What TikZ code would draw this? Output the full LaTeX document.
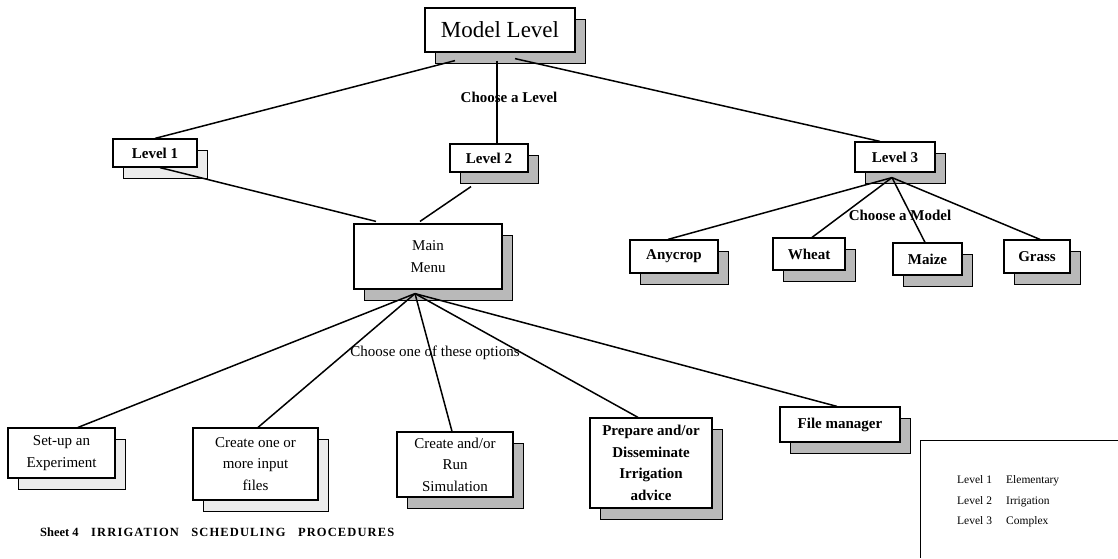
\documentclass[tikz,border=0pt]{standalone}
\usepackage{fontspec}
\setmainfont{Liberation Serif}
\usetikzlibrary{shadows,calc}
\begin{document}
\begin{tikzpicture}[x=1pt,y=-1pt,
  box/.style={draw=black, line width=1.2pt, fill=white, align=center,
    inner sep=2pt, font=\fontsize{15}{21.5}\selectfont,
    copy shadow={shadow xshift=10pt, shadow yshift=-11pt, fill=#1,
      draw=black, line width=0.8pt}},
  box/.default=gray!55,
  boldbox/.style={box=#1, font=\bfseries\fontsize{15}{21.5}\selectfont},
  boldbox/.default=gray!55,
  link/.style={draw=black, line width=1.5pt},
  caption/.style={font=\fontsize{15}{18}\selectfont, inner sep=0pt},
  legendtext/.style={font=\fontsize{11.5}{14}\selectfont, anchor=base west, inner sep=0pt}]

\useasboundingbox (0,0) rectangle (1118,558);

% top level
\node[box, minimum width=150pt, minimum height=44pt,
      font=\fontsize{23}{26}\selectfont] (ml) at (500,30) {Model Level};

% levels
\node[boldbox=gray!15, minimum width=84pt, minimum height=28pt] (l1) at (155,153) {Level 1};
\node[boldbox, minimum width=78pt, minimum height=28pt] (l2) at (489,158) {Level 2};
\node[boldbox, minimum width=80pt, minimum height=30pt] (l3) at (895,157) {Level 3};

% main menu
\node[box, minimum width=148pt, minimum height=65pt] (mm) at (428,256.5) {Main\\Menu};

% crop models
\node[boldbox, minimum width=88pt, minimum height=33pt] (anycrop) at (674,256.5) {Anycrop};
\node[boldbox, minimum width=72pt, minimum height=32pt] (wheat) at (809,254) {Wheat};
\node[boldbox, minimum width=69pt, minimum height=32pt] (maize) at (927.5,259) {Maize};
\node[boldbox, minimum width=66pt, minimum height=33pt] (grass) at (1037,256.5) {Grass};

% menu options
\node[box=gray!15, minimum width=107pt, minimum height=50pt] (setup) at (61.5,453) {Set-up an\\Experiment};
\node[box=gray!15, minimum width=125pt, minimum height=72pt] (input) at (255.5,464) {Create one or\\more input\\files};
\node[box, minimum width=116pt, minimum height=65pt] (sim) at (455,464.5) {Create and/or\\Run\\Simulation};
\node[boldbox, minimum width=122pt, minimum height=90pt] (advice) at (651,463) {Prepare and/or\\Disseminate\\Irrigation\\advice};
\node[boldbox, minimum width=120pt, minimum height=35pt] (files) at (840,424.5) {File manager};

% hubs where the branches meet
\coordinate (mlhub) at ($(ml.south)+(-3,8)$);
\coordinate (mmhub) at ($(mm.south)+(-13,4)$);
\coordinate (lthub) at ($(l3.south)+(-3,5)$);

% branches from the model level
\draw[link] ($(ml.south)+(-45,8)$) -- (l1.north);
\draw[link] (mlhub) -- ($(l2.north)+(8,0)$);
\draw[link] ($(ml.south)+(15,6)$) -- ($(l3.north)+(-15,0)$);

% levels 1 and 2 lead to the main menu
\draw[link] ($(l1.south)+(5,0)$) -- ($(mm.north)+(-52,-2)$);
\draw[link] ($(l2.south)+(-18,14)$) -- ($(mm.north)+(-8,-2)$);

% level 3 models
\draw[link] (lthub) -- ($(anycrop.north)+(-6,0)$);
\draw[link] (lthub) -- ($(wheat.north)+(3,0)$);
\draw[link] (lthub) -- ($(maize.north)+(-2.5,0)$);
\draw[link] (lthub) -- ($(grass.north)+(3,0)$);

% main menu options
\draw[link] (mmhub) -- ($(setup.north)+(16.5,0)$);
\draw[link] (mmhub) -- ($(input.north)+(2.5,0)$);
\draw[link] (mmhub) -- ($(sim.north)+(-3,0)$);
\draw[link] (mmhub) -- ($(advice.north)+(-13,0)$);
\draw[link] (mmhub) -- ($(files.north)+(-3,0)$);

% branch captions
\node[caption, font=\bfseries\fontsize{15}{18}\selectfont] (cl) at (509,97) {Choose a Level};
\node[caption, font=\bfseries\fontsize{15}{18}\selectfont] (cm) at (900,215) {Choose a Model};
\node[caption] (co) at (435,353) {Choose one of these options};

% sheet title
\node[anchor=base west, inner sep=0pt, font=\bfseries\fontsize{12.5}{14}\selectfont] (title) at (40,536)
  {Sheet 4\quad{\fontsize{12.5}{14}\selectfont\addfontfeature{LetterSpace=9}IRRIGATION\quad SCHEDULING\quad PROCEDURES}};

% legend
\draw[line width=1pt] (1118,440) -- (920,440) -- (920,558);
\node[legendtext] (k1) at (957,483) {Level 1};
\node[legendtext] (v1) at (1006,483) {Elementary};
\node[legendtext] (k2) at (957,504) {Level 2};
\node[legendtext] (v2) at (1006,504) {Irrigation};
\node[legendtext] (k3) at (957,524) {Level 3};
\node[legendtext] (v3) at (1006,524) {Complex};
\end{tikzpicture}
\end{document}
